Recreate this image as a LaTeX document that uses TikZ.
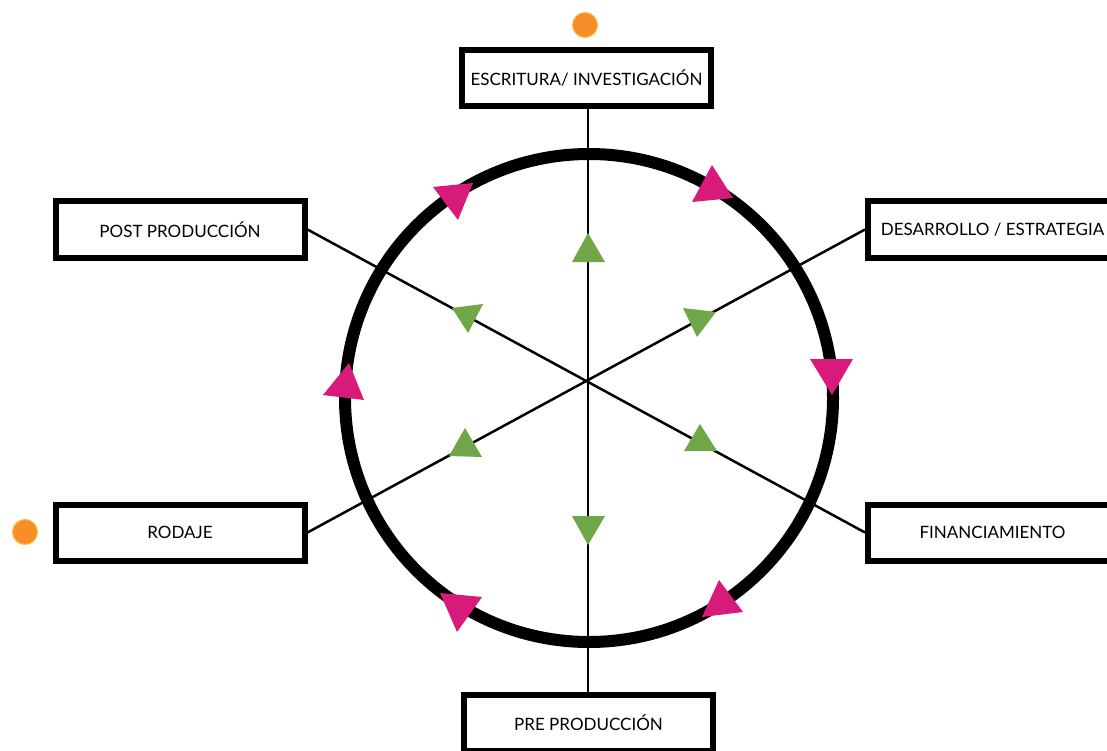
\documentclass[tikz,border=0pt]{standalone}
\usepackage{fontspec}
\setmainfont{Lato}
\definecolor{pinkc}{RGB}{216,26,122}
\definecolor{greenc}{RGB}{110,166,72}
\definecolor{orangec}{RGB}{248,142,42}
\definecolor{orangerim}{RGB}{252,190,60}
\pgfdeclarelayer{background}
\pgfsetlayers{background,main}
\tikzset{
  stagebox/.style={draw=black, line width=6pt, fill=white, minimum width=249pt, minimum height=56pt, inner sep=0pt, font=\fontsize{17}{20}\selectfont},
  spoke/.style={draw=black, line width=2.5pt},
  pinktri/.style={fill=pinkc},
  greentri/.style={fill=greenc},
  dot/.style={circle, fill=orangec, draw=orangerim, line width=1pt, minimum size=25pt, inner sep=0pt}
}
\begin{document}
\begin{tikzpicture}[x=1pt,y=-1pt]
\useasboundingbox (0,0) rectangle (1107,751);
\coordinate (ctr) at (588,382);
\node[stagebox] (top) at (586.5,78) {ESCRITURA/ INVESTIGACIÓN};
\node[stagebox] (post) at (180,229.5) {POST PRODUCCIÓN};
\node[stagebox] (des) at (992.5,229.5) {DESARROLLO / ESTRATEGIA};
\node[stagebox] (rod) at (180,532.5) {RODAJE};
\node[stagebox] (fin) at (992.5,532.5) {FINANCIAMIENTO};
\node[stagebox] (pre) at (588.5,723) {PRE PRODUCCIÓN};
\begin{pgfonlayer}{background}
\fill[white] (0,0) rectangle (1107,751);
\draw[spoke] (top.south -| ctr) -- (pre.north -| ctr);
\draw[spoke] (post.east) -- (fin.west);
\draw[spoke] (rod.east) -- (des.west);
\draw[line width=12pt] (589,398) circle[radius=244];
\end{pgfonlayer}
% pink triangles on circle
\fill[pinktri] (433,187) -- (473,183) -- (458,220) -- cycle;
\fill[pinktri] (712,165) -- (692,202) -- (733,198) -- cycle;
\fill[pinktri] (810,359) -- (853,359) -- (832,395) -- cycle;
\fill[pinktri] (349,363) -- (323,395) -- (364,400) -- cycle;
\fill[pinktri] (719,580) -- (702,617) -- (743,612) -- cycle;
\fill[pinktri] (440,593) -- (482,597) -- (457,632) -- cycle;
% green triangles on spokes
\fill[greentri] (588,233) -- (572,262) -- (605,262) -- cycle;
\fill[greentri] (452,308) -- (483,304) -- (468,333) -- cycle;
\fill[greentri] (683,308) -- (716,312) -- (697,337) -- cycle;
\fill[greentri] (465,428) -- (449,456) -- (482,457) -- cycle;
\fill[greentri] (700,424) -- (684,451) -- (717,451) -- cycle;
\fill[greentri] (572,516) -- (605,516) -- (588,545) -- cycle;
% orange dots
\node[dot] (d1) at (585,25) {};
\node[dot] (d2) at (25,532) {};
\end{tikzpicture}
\end{document}
